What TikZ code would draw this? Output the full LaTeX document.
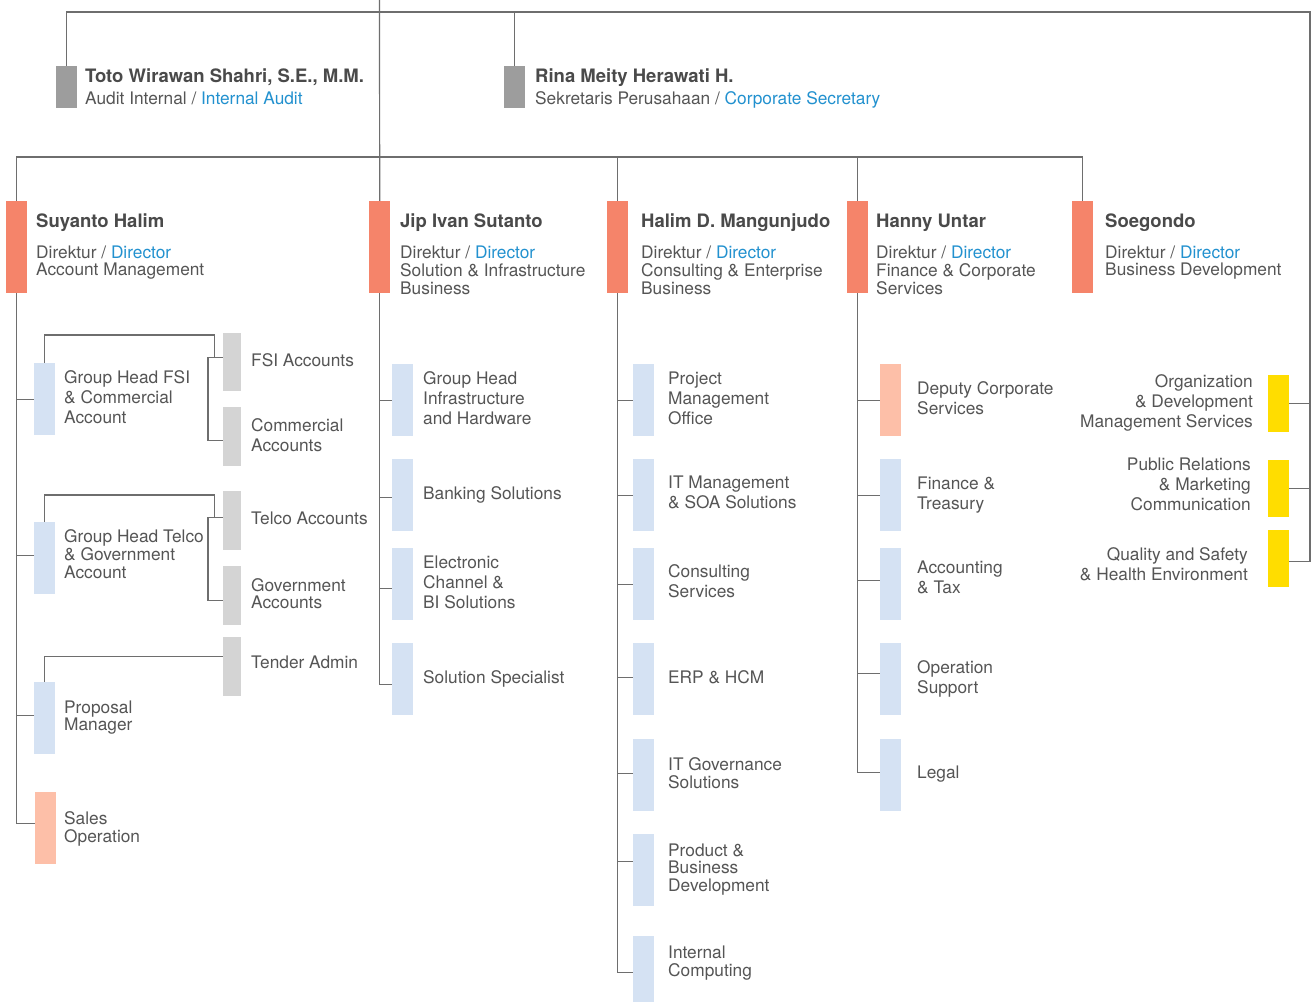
\documentclass[tikz,border=0pt]{standalone}
\usepackage{fontspec}
\setmainfont{TeX Gyre Heros}
\definecolor{lineC}{HTML}{6E6E6E}
\definecolor{txtC}{HTML}{555555}
\definecolor{nameC}{HTML}{4A4A4A}
\definecolor{blueC}{HTML}{2291CF}
\definecolor{orangeC}{HTML}{F5846A}
\definecolor{salmonC}{HTML}{FDBFA8}
\definecolor{lblueC}{HTML}{D5E2F3}
\definecolor{lgrayC}{HTML}{D4D4D4}
\definecolor{dgrayC}{HTML}{9D9D9D}
\definecolor{yellowC}{HTML}{FFDD00}
\newcommand{\txtL}[1]{\begin{tabular}[t]{@{}l@{}}#1\end{tabular}}
\newcommand{\txtR}[1]{\begin{tabular}[t]{@{}r@{}}#1\end{tabular}}
\newcommand{\dirtxt}{Direktur / \textcolor{blueC}{Director}}
\begin{document}
\begin{tikzpicture}[x=1pt,y=-1pt,
  conn/.style={draw=lineC, line width=1.2pt},
  bar/.style={rectangle, inner sep=0pt, draw=none, anchor=north west, minimum width=21pt},
  ubar/.style={bar, fill=lblueC, minimum height=72pt},
  gbar/.style={bar, fill=lgrayC, minimum width=18pt, minimum height=59pt},
  ybar/.style={bar, fill=yellowC, minimum height=57pt},
  dbar/.style={bar, fill=orangeC, minimum height=92pt},
  tbar/.style={bar, fill=dgrayC, minimum height=42pt},
  lbl/.style={anchor=base west, inner sep=0pt, text=txtC, font=\fontsize{17.3}{20}\selectfont},
  lblT/.style={lbl, font=\fontsize{17.3}{17.5}\selectfont},
  lblR/.style={lbl, anchor=base east},
  nm/.style={anchor=base west, inner sep=0pt, text=nameC, font=\fontsize{18.5}{20}\selectfont\bfseries},
  sub/.style={lbl, font=\fontsize{17.3}{17.5}\selectfont},
  subW/.style={lbl, font=\fontsize{17.3}{22}\selectfont}
]
\fill[white] (0,0) rectangle (1313,1001);
\useasboundingbox (0,0) rectangle (1313,1001);

% ---------- bars ----------
\node[tbar] (toto) at (56,66) {};
\node[tbar] (rina) at (504,66) {};
\node[dbar] (suy) at (6,201) {};
\node[dbar] (jip) at (369,201) {};
\node[dbar] (hal) at (607,201) {};
\node[dbar] (han) at (847,201) {};
\node[dbar] (soe) at (1072,201) {};

\node[ubar] (gfsi) at (34,363) {};
\node[gbar, minimum height=58pt] (fsi) at (223,333) {};
\node[gbar] (comm) at (223,407) {};
\node[ubar] (gtel) at (34,522) {};
\node[gbar] (tel) at (223,491) {};
\node[gbar] (gov) at (223,566) {};
\node[gbar] (tend) at (223,637) {};
\node[ubar] (prop) at (34,682) {};
\node[ubar, fill=salmonC] (sales) at (35,792) {};

\node[ubar] (ginf) at (392,364) {};
\node[ubar] (bank) at (392,459) {};
\node[ubar] (elec) at (392,548) {};
\node[ubar] (solsp) at (392,643) {};

\node[ubar] (pmo) at (633,364) {};
\node[ubar] (itm) at (633,459) {};
\node[ubar] (cons) at (633,548) {};
\node[ubar] (erp) at (633,643) {};
\node[ubar] (itg) at (633,739) {};
\node[ubar] (prod) at (633,834) {};
\node[ubar] (intc) at (633,936) {};

\node[ubar, fill=salmonC] (dep) at (880,364) {};
\node[ubar] (fin) at (880,459) {};
\node[ubar] (acc) at (880,548) {};
\node[ubar] (ops) at (880,643) {};
\node[ubar] (legal) at (880,739) {};

\node[ybar] (org) at (1268,375) {};
\node[ybar] (pr) at (1268,460) {};
\node[ybar] (qual) at (1268,530) {};

% ---------- connectors ----------
\coordinate (topC) at (379.5,0);
\coordinate (rx) at (1310,12);
\coordinate (bus) at (0,157);
\begin{scope}[on background layer/.style={}]
\draw[conn] (topC) -- (jip.north);
\draw[conn] (toto.north) |- (rx) |- ([yshift=-2.5pt]qual.east);
\draw[conn] (rina.north) -- (rina.north |- rx);
\draw[conn] (org.east) -- (org.east -| rx);
\draw[conn] (pr.east) -- (pr.east -| rx);
\draw[conn] (suy.north) |- (soe.north |- bus) -- (soe.north);
\draw[conn] (hal.north) -- (hal.north |- bus);
\draw[conn] (han.north) -- (han.north |- bus);

% Suyanto column
\draw[conn] (suy.south) |- (gfsi.west);
\draw[conn] (suy.south) |- ([yshift=3pt]gtel.west);
\draw[conn] (suy.south) |- ([yshift=3pt]prop.west);
\draw[conn] (suy.south) |- ([yshift=5pt]sales.west);
\draw[conn] (gfsi.north) -- ++(0,-28) -- ++(169.5,0) -- ++(0,22);
\draw[conn] ([yshift=5pt]fsi.west) -- ++(-15,0) |- ([yshift=-3.5pt]comm.west);
\draw[conn] (gtel.north) -- ++(0,-27) -- ++(169.5,0) -- ++(0,22);
\draw[conn] ([yshift=3.5pt]tel.west) -- ++(-15,0) |- ([yshift=-4.5pt]gov.west);
\draw[conn] (prop.north) |- ([yshift=10.5pt]tend.west);

% Jip column
\draw[conn] (jip.south) |- (ginf.west);
\draw[conn] (jip.south) |- ([yshift=-2pt]bank.west);
\draw[conn] (jip.south) |- ([yshift=-4pt]elec.west);
\draw[conn] (jip.south) |- ([yshift=-5pt]solsp.west);

% Halim column
\draw[conn] (hal.south) |- (pmo.west);
\draw[conn] (hal.south) |- (itm.west);
\draw[conn] (hal.south) |- (cons.west);
\draw[conn] (hal.south) |- ([yshift=2pt]erp.west);
\draw[conn] (hal.south) |- ([yshift=2pt]itg.west);
\draw[conn] (hal.south) |- ([yshift=9pt]prod.west);
\draw[conn] (hal.south) |- (intc.west);

% Hanny column
\draw[conn] (han.south) |- (dep.west);
\draw[conn] (han.south) |- (fin.west);
\draw[conn] (han.south) |- ([yshift=4pt]acc.west);
\draw[conn] (han.south) |- ([yshift=6pt]ops.west);
\draw[conn] (han.south) |- ([yshift=3pt]legal.west);
\end{scope}

% redraw bars on top of lines
\foreach \n/\c in {toto/dgrayC,rina/dgrayC,suy/orangeC,jip/orangeC,hal/orangeC,han/orangeC,soe/orangeC,
  gfsi/lblueC,fsi/lgrayC,comm/lgrayC,gtel/lblueC,tel/lgrayC,gov/lgrayC,tend/lgrayC,prop/lblueC,sales/salmonC,
  ginf/lblueC,bank/lblueC,elec/lblueC,solsp/lblueC,pmo/lblueC,itm/lblueC,cons/lblueC,erp/lblueC,itg/lblueC,prod/lblueC,intc/lblueC,
  dep/salmonC,fin/lblueC,acc/lblueC,ops/lblueC,legal/lblueC,org/yellowC,pr/yellowC,qual/yellowC}
  \fill[\c] (\n.north west) rectangle (\n.south east);

% ---------- texts ----------
\node[nm] (totoN) at (85,82) {Toto Wirawan Shahri, S.E., M.M.};
\node[lbl] (totoS) at (85,104) {Audit Internal / \textcolor{blueC}{Internal Audit}};
\node[nm] (rinaN) at (535,82) {Rina Meity Herawati H.};
\node[lbl] (rinaS) at (535,104) {Sekretaris Perusahaan / \textcolor{blueC}{Corporate Secretary}};

\node[nm] (suyN) at (36,227) {Suyanto Halim};
\node[sub] (suyS) at (36,258) {\txtL{\dirtxt\\Account Management}};
\node[nm] (jipN) at (400,227) {Jip Ivan Sutanto};
\node[sub] (jipS) at (400,258) {\txtL{\dirtxt\\Solution \& Infrastructure\\Business}};
\node[nm] (halN) at (641,227) {Halim D. Mangunjudo};
\node[sub] (halS) at (641,258) {\txtL{\dirtxt\\Consulting \& Enterprise\\Business}};
\node[nm] (hanN) at (876,227) {Hanny Untar};
\node[sub] (hanS) at (876,258) {\txtL{\dirtxt\\Finance \& Corporate\\Services}};
\node[nm] (soeN) at (1105,227) {Soegondo};
\node[sub] (soeS) at (1105,258) {\txtL{\dirtxt\\Business Development}};

\node[lbl] at (64,383) {\txtL{Group Head FSI\\\& Commercial\\Account}};
\node[lbl] at (251,366) {FSI Accounts};
\node[lbl] at (251,431) {\txtL{Commercial\\Accounts}};
\node[lblT] at (64,542) {\txtL{Group Head Telco\\\& Government\\Account}};
\node[lbl] at (251,524) {Telco Accounts};
\node[lblT] at (251,591) {\txtL{Government\\Accounts}};
\node[lbl] at (251,668) {Tender Admin};
\node[lblT] at (64,713) {\txtL{Proposal\\Manager}};
\node[lblT] at (64,824) {\txtL{Sales\\Operation}};

\node[lbl] at (423,384) {\txtL{Group Head\\Infrastructure\\and Hardware}};
\node[lbl] at (423,499) {Banking Solutions};
\node[lbl] at (423,568) {\txtL{Electronic\\Channel \&\\BI Solutions}};
\node[lbl] at (423,683) {Solution Specialist};

\node[lbl] at (668,384) {\txtL{Project\\Management\\Office}};
\node[lbl] at (668,488) {\txtL{IT Management\\\& SOA Solutions}};
\node[lbl] at (668,577) {\txtL{Consulting\\Services}};
\node[lbl] at (668,683) {ERP \& HCM};
\node[lblT] at (668,770) {\txtL{IT Governance\\Solutions}};
\node[lblT] at (668,856) {\txtL{Product \&\\Business\\Development}};
\node[lblT] at (668,958) {\txtL{Internal\\Computing}};

\node[lbl] at (917,394) {\txtL{Deputy Corporate\\Services}};
\node[lbl] at (917,489) {\txtL{Finance \&\\Treasury}};
\node[lbl] at (917,573) {\txtL{Accounting\\\& Tax}};
\node[lbl] at (917,673) {\txtL{Operation\\Support}};
\node[lbl] at (917,778) {Legal};

\node[lblR] at (1253,387) {\txtR{Organization\\\& Development\\Management Services}};
\node[lblR] at (1251,470) {\txtR{Public Relations\\\& Marketing\\Communication}};
\node[lblR] at (1248,560) {\txtR{Quality and Safety\\\& Health Environment}};
\end{tikzpicture}
\end{document}
